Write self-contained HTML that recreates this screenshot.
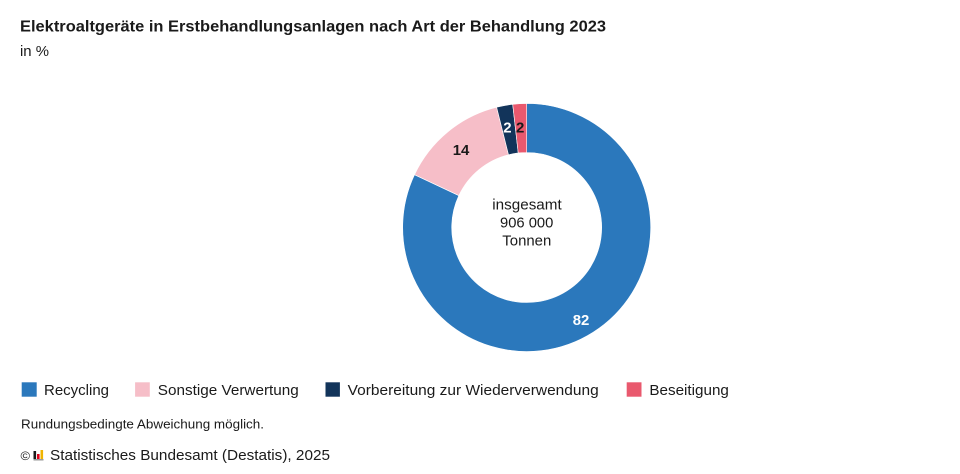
<!DOCTYPE html>
<html>
<head>
<meta charset="utf-8">
<style>
html,body{margin:0;padding:0;background:#fff;}
svg{display:block;}
text{font-family:"Liberation Sans",sans-serif;fill:#1a1a1a;}
</style>
</head>
<body>
<svg width="960" height="474" viewBox="0 0 960 474" xmlns="http://www.w3.org/2000/svg">
  <rect width="960" height="474" fill="#fff"/>
  <!-- Title -->
  <text x="20" y="31.5" font-size="16" font-weight="bold" textLength="586" lengthAdjust="spacingAndGlyphs">Elektroaltgeräte in Erstbehandlungsanlagen nach Art der Behandlung 2023</text>
  <text x="20" y="56" font-size="14.5" textLength="29" lengthAdjust="spacingAndGlyphs">in %</text>

  <!-- Donut -->
  <g stroke="#fff" stroke-width="0.6">
    <path d="M 526.7 103.5 A 124 124 0 1 1 414.5 174.7 L 458.84 195.56 A 75 75 0 1 0 526.7 152.5 Z" fill="#2b78bc"/>
    <path d="M 414.5 174.7 A 124 124 0 0 1 496.62 107.21 L 508.5 154.74 A 75 75 0 0 0 458.84 195.56 Z" fill="#f6bec8"/>
    <path d="M 496.62 107.21 A 124 124 0 0 1 512.7 104.3 L 518.23 152.98 A 75 75 0 0 0 508.5 154.74 Z" fill="#12345a"/>
    <path d="M 512.7 104.3 A 124 124 0 0 1 526.7 103.5 L 526.7 152.5 A 75 75 0 0 0 518.23 152.98 Z" fill="#e9596e"/>
  </g>

  <!-- Segment labels -->
  <text x="452.7" y="155" font-size="15" font-weight="bold" textLength="16.6" lengthAdjust="spacingAndGlyphs">14</text>
  <text x="503.3" y="132.7" font-size="15" font-weight="bold" style="fill:#fff">2</text>
  <text x="516" y="132.7" font-size="15" font-weight="bold">2</text>
  <text x="572.7" y="325" font-size="15" font-weight="bold" style="fill:#fff" textLength="16.6" lengthAdjust="spacingAndGlyphs">82</text>

  <!-- Center text -->
  <text x="492.3" y="209.5" font-size="15" textLength="69.4" lengthAdjust="spacingAndGlyphs">insgesamt</text>
  <text x="500" y="227.7" font-size="15" textLength="53.3" lengthAdjust="spacingAndGlyphs">906 000</text>
  <text x="502.3" y="245.7" font-size="15" textLength="49" lengthAdjust="spacingAndGlyphs">Tonnen</text>

  <!-- Legend -->
  <rect x="21.7" y="382.3" width="15" height="14.4" fill="#2b78bc"/>
  <text x="44" y="395" font-size="15" textLength="65" lengthAdjust="spacingAndGlyphs">Recycling</text>
  <rect x="135.1" y="382.3" width="14.7" height="14.4" fill="#f6bec8"/>
  <text x="157.8" y="395" font-size="15" textLength="141" lengthAdjust="spacingAndGlyphs">Sonstige Verwertung</text>
  <rect x="325.5" y="382.3" width="14.4" height="14.4" fill="#12345a"/>
  <text x="347.7" y="395" font-size="15" textLength="251" lengthAdjust="spacingAndGlyphs">Vorbereitung zur Wiederverwendung</text>
  <rect x="626.7" y="382.3" width="14.8" height="14.4" fill="#e9596e"/>
  <text x="649.4" y="395" font-size="15" textLength="79.5" lengthAdjust="spacingAndGlyphs">Beseitigung</text>

  <!-- Note -->
  <text x="21" y="428.3" font-size="12.5" textLength="243" lengthAdjust="spacingAndGlyphs">Rundungsbedingte Abweichung möglich.</text>

  <!-- Footer -->
  <text x="20.5" y="460" font-size="12" textLength="9.5" lengthAdjust="spacingAndGlyphs">©</text>
  <g>
    <rect x="33.5" y="451" width="2.6" height="8" fill="#1a1a1a"/>
    <rect x="37" y="454" width="2.6" height="5" fill="#e2001a"/>
    <rect x="40.5" y="450" width="2.6" height="9" fill="#f0b400"/>
    <rect x="33.5" y="459" width="10" height="1.5" fill="#999"/>
  </g>
  <text x="50" y="460" font-size="15" textLength="280" lengthAdjust="spacingAndGlyphs">Statistisches Bundesamt (Destatis), 2025</text>
</svg>
</body>
</html>
